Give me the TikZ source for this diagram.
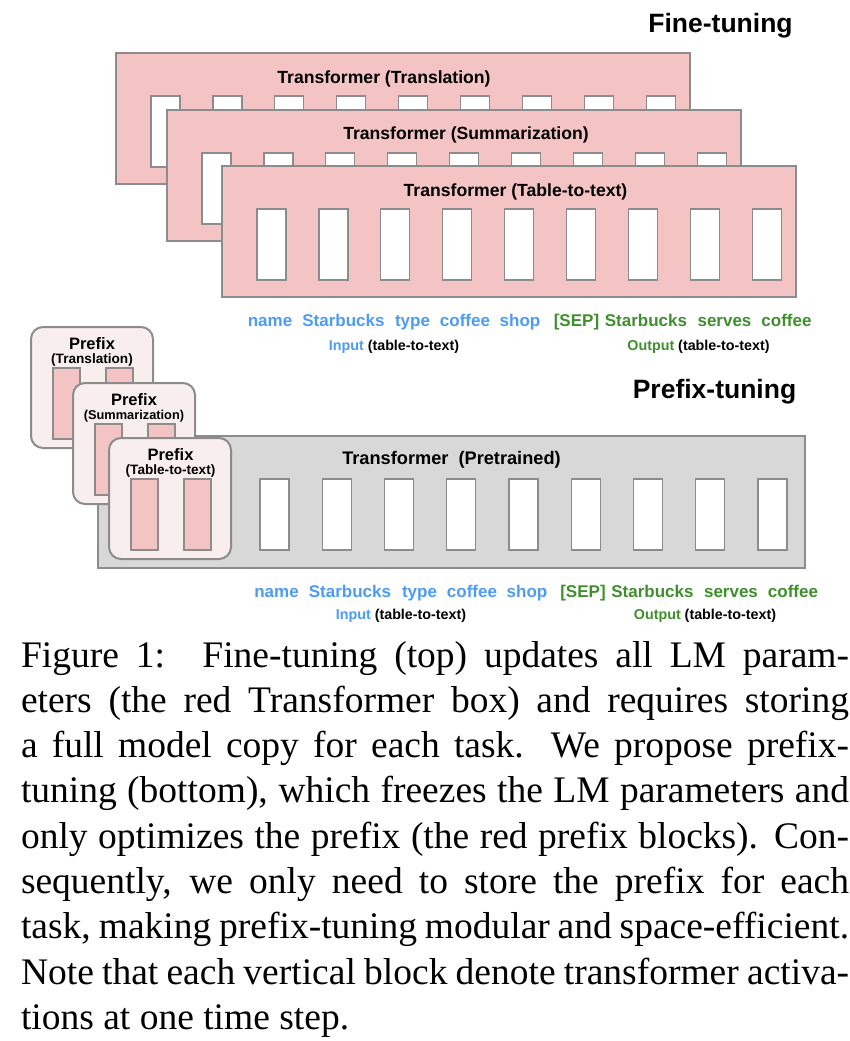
\documentclass[tikz,border=0pt]{standalone}
\usepackage{fontspec}
\setmainfont{Liberation Serif}
\newfontfamily\hv{Liberation Sans}
\definecolor{pinkfill}{RGB}{244,195,195}
\definecolor{edgegray}{RGB}{140,140,140}
\definecolor{grayfill}{RGB}{216,216,216}
\definecolor{prefill}{RGB}{249,238,238}
\definecolor{inblue}{RGB}{76,155,245}
\definecolor{outgreen}{RGB}{63,143,44}
\newcommand\capline[1]{\makebox[828pt][s]{#1}}
\tikzset{
  lbl/.style={inner sep=0pt, outer sep=0pt, anchor=base},
  tbox/.style={draw=edgegray, fill=pinkfill, line width=1.6pt, anchor=north west,
    minimum width=574pt, minimum height=131pt, inner sep=0pt, outer sep=0pt},
  gbox/.style={draw=edgegray, fill=grayfill, line width=1.6pt, anchor=north west,
    minimum width=707pt, minimum height=132pt, inner sep=0pt, outer sep=0pt},
  wblock/.style={draw=edgegray, fill=white, line width=1.3pt, anchor=north west,
    minimum width=29pt, minimum height=71pt, inner sep=0pt, outer sep=0pt},
  pbox/.style={draw=edgegray, fill=prefill, line width=2pt, rounded corners=12pt,
    anchor=north west, minimum width=122pt, minimum height=121pt, inner sep=0pt, outer sep=0pt},
  pblock/.style={draw=edgegray, fill=pinkfill, line width=1.3pt, anchor=north west,
    minimum width=27pt, minimum height=71pt, inner sep=0pt, outer sep=0pt},
  boxtitle/.style={lbl, font=\hv\bfseries\fontsize{17.6}{20}\selectfont},
  bigtitle/.style={lbl, font=\hv\bfseries\fontsize{26.5}{30}\selectfont},
  ptitle/.style={lbl, font=\hv\bfseries\fontsize{16.5}{20}\selectfont},
  psub/.style={lbl, font=\hv\bfseries\fontsize{13.6}{16}\selectfont},
  word/.style={lbl, font=\hv\bfseries\fontsize{17}{20}\selectfont},
  iolbl/.style={lbl, font=\hv\bfseries\fontsize{14.3}{16}\selectfont},
}
\begin{document}
\begin{tikzpicture}[x=1pt,y=-1pt]
\useasboundingbox (0,0) rectangle (850,1041);

% ---------- Fine-tuning ----------
\node[bigtitle] (ft) at (720.5,33) {Fine-tuning};

\node[tbox] (T1) at (116,53) {};
\foreach \i in {0,...,8} \node[wblock] (T1b\i) at ({151+\i*61.9},96) {};
\node[boxtitle] (T1t) at (384,83) {Transformer (Translation)};

\node[tbox] (T2) at (167,110) {};
\foreach \i in {0,...,8} \node[wblock] (T2b\i) at ({202+\i*61.9},153) {};
\node[boxtitle] (T2t) at (466,139.5) {Transformer (Summarization)};

\node[tbox] (T3) at (222,166) {};
\foreach \i in {0,...,8} \node[wblock] (T3b\i) at ({257+\i*61.9},209) {};
\node[boxtitle] (T3t) at (515.5,196) {Transformer (Table-to-text)};

\foreach \x/\w/\c [count=\i] in {270/name/inblue, 343.5/Starbucks/inblue, 412.5/type/inblue,
  465/coffee/inblue, 520/shop/inblue, 576.5/{[SEP]}/outgreen, 646/Starbucks/outgreen,
  724.5/serves/outgreen, 786.5/coffee/outgreen}
  \node[word, text=\c] (tw\i) at (\x,326) {\w};
\node[iolbl] (tin) at (394,350) {\textcolor{inblue}{Input} (table-to-text)};
\node[iolbl] (tout) at (698.5,350) {\textcolor{outgreen}{Output} (table-to-text)};

% ---------- Prefix-tuning ----------
\node[bigtitle] (pt) at (714.5,398) {Prefix-tuning};

\node[gbox] (G) at (98,436) {};
\foreach \i in {0,...,8} \node[wblock] (Gb\i) at ({260+\i*62.25},479) {};
\node[boxtitle, font=\hv\bfseries\fontsize{18.2}{20}\selectfont] (Gt) at (451.5,464) {Transformer\ \ (Pretrained)};

\node[pbox] (P1) at (31,327) {};
\node[pblock] (P1a) at (53,368) {};
\node[pblock] (P1b) at (106,368) {};
\node[ptitle] (P1t) at (92,349) {Prefix};
\node[psub] (P1s) at (92,363.5) {(Translation)};

\node[pbox] (P2) at (73,383) {};
\node[pblock] (P2a) at (95,424) {};
\node[pblock] (P2b) at (148,424) {};
\node[ptitle] (P2t) at (134,405) {Prefix};
\node[psub, font=\hv\bfseries\fontsize{12.8}{15}\selectfont] (P2s) at (134,419.5) {(Summarization)};

\node[pbox] (P3) at (109,438) {};
\node[pblock] (P3a) at (131,479) {};
\node[pblock] (P3b) at (184,479) {};
\node[ptitle] (P3t) at (170.5,460) {Prefix};
\node[psub] (P3s) at (170.5,474.5) {(Table-to-text)};

\foreach \x/\w/\c [count=\i] in {276.5/name/inblue, 350/Starbucks/inblue, 419.5/type/inblue,
  472/coffee/inblue, 527/shop/inblue, 583/{[SEP]}/outgreen, 652.5/Starbucks/outgreen,
  731/serves/outgreen, 793/coffee/outgreen}
  \node[word, text=\c] (bw\i) at (\x,597) {\w};
\node[iolbl] (bin) at (401,619) {\textcolor{inblue}{Input} (table-to-text)};
\node[iolbl] (bout) at (705,619) {\textcolor{outgreen}{Output} (table-to-text)};

% ---------- Caption ----------
\node[inner sep=0pt, outer sep=0pt, anchor=north west, align=left,
      font=\fontsize{37.5}{45.3}\selectfont] (cap) at (21,641) {%
\capline{Figure 1:\quad Fine-tuning (top) updates all LM param-}\\
\capline{eters (the red Transformer box) and requires storing}\\
\capline{a full model copy for each task. We propose prefix-}\\
\capline{tuning (bottom), which freezes the LM parameters and}\\
\capline{only optimizes the prefix (the red prefix blocks). Con-}\\
\capline{sequently, we only need to store the prefix for each}\\
\capline{task, making prefix-tuning modular and space-efficient.}\\
\capline{Note that each vertical block denote transformer activa-}\\
tions at one time step.};
\end{tikzpicture}
\end{document}
